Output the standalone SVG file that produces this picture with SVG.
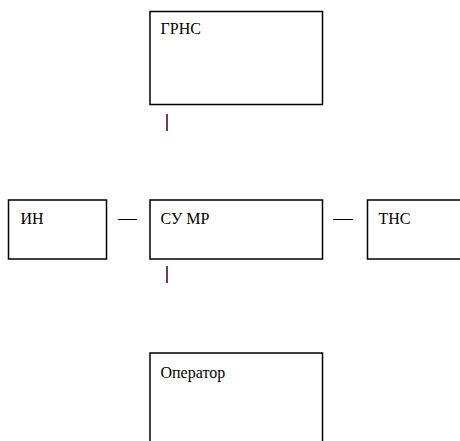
<svg xmlns="http://www.w3.org/2000/svg" width="460" height="441" viewBox="0 0 460 441">
<style>
.box{fill:#fff;stroke:#000;stroke-width:1.5}
.lbl{font-family:'Liberation Serif','Times New Roman',serif;font-size:16px;fill:#000}
.dash{stroke:#000;stroke-width:1}
.tick{stroke:#6b1f5e;stroke-width:1.8}
</style>
<rect width="460" height="441" fill="#fff"/>
<g id="connectors">
<line class="tick" x1="167" y1="114" x2="167" y2="131"/>
<line class="dash" x1="118" y1="219.5" x2="137" y2="219.5"/>
<line class="dash" x1="333" y1="219.5" x2="353" y2="219.5"/>
<line class="tick" x1="167" y1="266" x2="167" y2="283"/>
</g>
<g id="grns"><rect class="box" x="150" y="11.5" width="172.5" height="93"/><text class="lbl" x="160.5" y="33.5">ГРНС</text></g>
<g id="in"><rect class="box" x="8.5" y="200" width="98" height="59"/><text class="lbl" x="20.5" y="223.5">ИН</text></g>
<g id="sump"><rect class="box" x="150" y="200" width="172.5" height="59"/><text class="lbl" x="160.5" y="223.5">СУ МР</text></g>
<g id="tns"><rect class="box" x="367.5" y="200" width="100" height="59"/><text class="lbl" x="378.5" y="223.5">ТНС</text></g>
<g id="operator"><rect class="box" x="150" y="353" width="172.5" height="100"/><text class="lbl" x="160.5" y="377.5">Оператор</text></g>
</svg>
